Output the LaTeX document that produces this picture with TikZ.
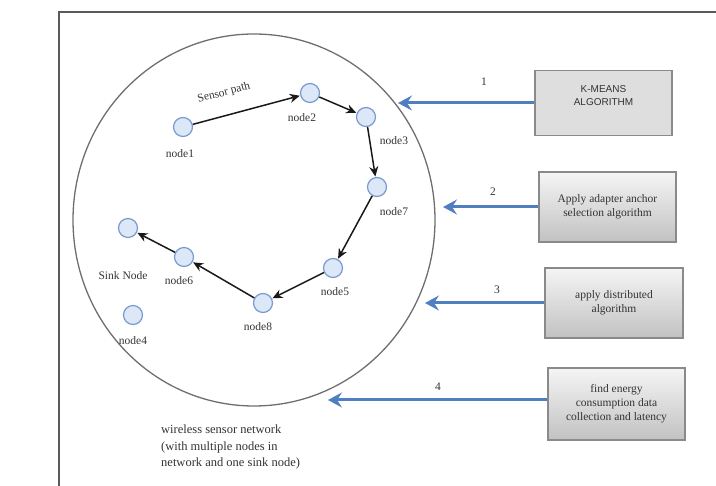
\documentclass[tikz,border=0pt]{standalone}
\usepackage{fontspec}
\setmainfont{Liberation Serif}
\newfontfamily\boxsans{Liberation Sans}
\usetikzlibrary{arrows.meta}
\definecolor{snf}{HTML}{DCE7F8}
\definecolor{snb}{HTML}{7B9BD0}
\definecolor{blu}{HTML}{4F7FC0}
\definecolor{frm}{HTML}{5A5A5A}
\definecolor{ell}{HTML}{6E6E6E}
\definecolor{bxb}{HTML}{8A8A8A}
\begin{document}
\begin{tikzpicture}[x=1pt,y=-1pt,
  sn/.style={circle, draw=snb, fill=snf, line width=1.2pt, minimum size=19pt, inner sep=0pt},
  lbl/.style={font=\fontsize{11.5}{13}\selectfont, inner sep=0pt, text=black!80},
  pathar/.style={-{Stealth[length=10pt,width=9pt]}, line width=1.5pt, black!90, shorten >=0.5pt},
  bluear/.style={-{Stealth[length=14pt,width=15pt,inset=5pt]}, line width=3pt, blu},
  stepbox/.style={draw=bxb, line width=1.6pt, align=center, inner sep=0pt,
     font=\fontsize{11.5}{14}\selectfont, text=black!80},
  grad/.style={top color=black!4, bottom color=black!24},
]
\useasboundingbox (0,0) rectangle (716,486);
% frame
\draw[frm, line width=2pt] (59,500) -- (59,12) -- (730,12);
% network ellipse
\draw[ell, line width=1.3pt] (254,220) ellipse [x radius=181, y radius=186];

% sensor nodes
\node[sn] (n1) at (183,127) {};
\node[sn] (n2) at (310,93) {};
\node[sn] (n3) at (366,117) {};
\node[sn] (n7) at (377,187) {};
\node[sn] (n5) at (333,268) {};
\node[sn] (n8) at (263,303) {};
\node[sn] (n6) at (184,257) {};
\node[sn] (sink) at (128,228) {};
\node[sn] (n4) at (133,315) {};

% labels
\node[lbl] (l1) at (180,154) {node1};
\node[lbl] (l2) at (302,118) {node2};
\node[lbl] (l3) at (394,141) {node3};
\node[lbl] (l7) at (394,212) {node7};
\node[lbl] (l5) at (335,292) {node5};
\node[lbl] (l8) at (258,327) {node8};
\node[lbl] (l6) at (179,281) {node6};
\node[lbl] (ls) at (123,276) {Sink Node};
\node[lbl] (l4) at (133,341) {node4};
\node[lbl, rotate=15] (sp) at (224,93) {Sensor path};

% path arrows
\draw[pathar] (n1) -- (n2);
\draw[pathar] (n2) -- (n3);
\draw[pathar] (n3) -- (n7);
\draw[pathar] (n7) -- (n5);
\draw[pathar] (n5) -- (n8);
\draw[pathar] (n8) -- (n6);
\draw[pathar] (n6) -- (sink);

% right boxes
\node[stepbox, fill=black!13, minimum width=137pt, minimum height=65pt, font=\boxsans\fontsize{10}{13}\selectfont] (b1) at (603.5,103) {K-MEANS\\ALGORITHM\\[1pt]};
\node[stepbox, grad, minimum width=137pt, minimum height=70pt] (b2) at (607.5,207) {Apply adapter anchor\\selection algorithm};
\node[stepbox, grad, minimum width=138pt, minimum height=70pt] (b3) at (614,303) {apply distributed\\algorithm};
\node[stepbox, grad, minimum width=137pt, minimum height=72pt] (b4) at (616.5,404) {find energy\\consumption data\\collection and latency};

% arrow tips on the ellipse
\coordinate (t1) at (398,103);
\coordinate (t2) at (443,207);
\coordinate (t3) at (425,303);
\coordinate (t4) at (328,400);

\draw[bluear] (b1.west) -- (t1);
\draw[bluear] (b2.west) -- (t2);
\draw[bluear] (b3.west) -- (t3);
\draw[bluear] (b4.west |- t4) -- (t4);

\node[lbl] (k1) at (484,82) {1};
\node[lbl] (k2) at (493,192) {2};
\node[lbl] (k3) at (497,290) {3};
\node[lbl] (k4) at (438,387) {4};

% caption
\node[lbl, align=left, anchor=north west, font=\fontsize{12.5}{16.5}\selectfont] (cap) at (161,425)
  {wireless sensor network\\(with multiple nodes in\\ network and one sink node)};
\end{tikzpicture}
\end{document}
